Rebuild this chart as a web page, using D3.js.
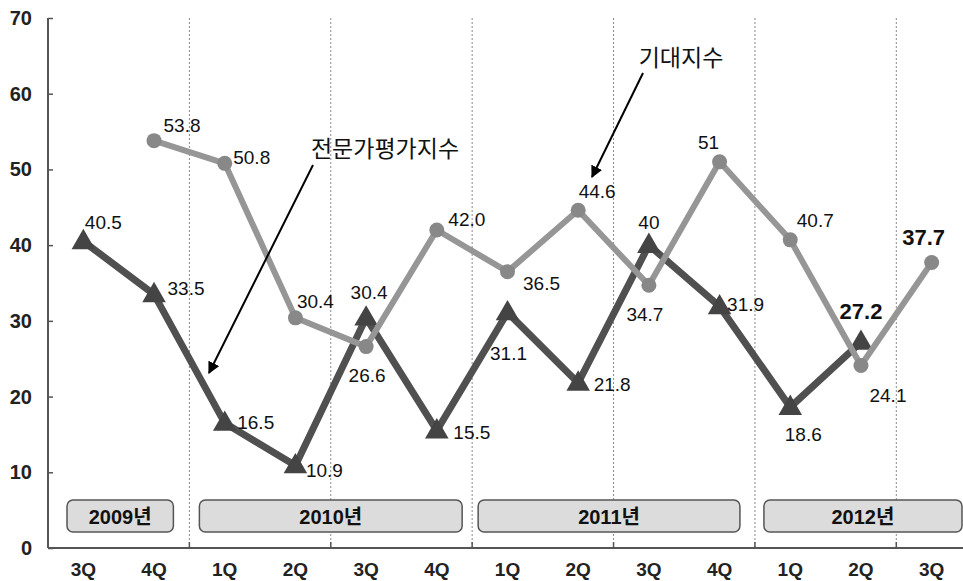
<!DOCTYPE html>
<html><head><meta charset="utf-8">
<script src="https://cdn.jsdelivr.net/npm/d3@7"></script>
<style>
body{margin:0;background:#fff;}
text{font-family:"Liberation Sans",Arial,"Noto Sans CJK KR",sans-serif;}
</style></head>
<body>
<svg id="c" width="963" height="581"></svg>
<script>
// ---- data ----
const quarters = ["3Q","4Q","1Q","2Q","3Q","4Q","1Q","2Q","3Q","4Q","1Q","2Q","3Q"];
const expertIndex = [40.5,33.5,16.5,10.9,30.4,15.5,31.1,21.8,40,31.9,18.6,27.2,null];
const expectIndex = [null,53.8,50.8,30.4,26.6,42.0,36.5,44.6,34.7,51,40.7,24.1,37.7];
const expertLabels = ["40.5","33.5","16.5","10.9","30.4","15.5","31.1","21.8","40","31.9","18.6","27.2",null];
const expectLabels = [null,"53.8","50.8","30.4","26.6","42.0","36.5","44.6","34.7","51","40.7","24.1","37.7"];
const years = ["2009년","2010년","2011년","2012년"];
const yearStart = [0,2,6,10];
const yearEnd = [1,5,9,12];
const yTicks = [0,10,20,30,40,50,60,70];
const expertName = "전문가평가지수";
const expectName = "기대지수";

// ---- layout ----
const svg = d3.select("#c");
const pL = 48, pR = 967, pT = 18, pB = 548;
const x = d3.scaleBand().domain(d3.range(quarters.length)).range([pL,pR]).padding(0);
const cx = i => x(i) + x.bandwidth()/2;
const y = d3.scaleLinear().domain([0,70]).range([pB,pT]);

// dashed dividers between half-years
const dividers = [2,4,6,8,10,12];
svg.append("g").selectAll("line").data(dividers).join("line")
  .attr("x1",d=>x(d)).attr("x2",d=>x(d)).attr("y1",pT).attr("y2",pB)
  .attr("stroke","#8a8a8a").attr("stroke-width",1).attr("stroke-dasharray","2,2");

// y axis
const yAxis = svg.append("g").attr("transform",`translate(${pL},0)`)
  .call(d3.axisRight(y).tickValues(yTicks).tickSize(5).tickFormat(""));
yAxis.select(".domain").attr("stroke","#555").attr("stroke-width",2).attr("d",`M0,${pT}V${pB}`);
yAxis.selectAll(".tick line").attr("stroke","#555").attr("stroke-width",1.5);
svg.append("g").selectAll("text").data(yTicks).join("text")
  .attr("x",32).attr("y",d=>y(d)+7).attr("text-anchor","end")
  .attr("font-size",20).attr("font-weight","bold").attr("fill","#222").text(d=>d);

// x axis
svg.append("line").attr("x1",pL).attr("x2",963).attr("y1",pB).attr("y2",pB)
  .attr("stroke","#555").attr("stroke-width",2);
svg.append("g").selectAll("line").data(dividers).join("line")
  .attr("x1",d=>x(d)).attr("x2",d=>x(d)).attr("y1",pB-6).attr("y2",pB)
  .attr("stroke","#555").attr("stroke-width",1.5);
svg.append("g").selectAll("text").data(quarters).join("text")
  .attr("x",(d,i)=>cx(i)).attr("y",576).attr("text-anchor","middle")
  .attr("font-size",19).attr("font-weight","bold").attr("fill","#222").text(d=>d);

// year boxes
const insL = [19,10,6,9], insR = [16,10,15,5];
const yb = svg.append("g");
years.forEach((yr,k)=>{
  const x0 = x(yearStart[k]) + insL[k];
  const x1 = x(yearEnd[k]) + x.bandwidth() - insR[k];
  yb.append("rect").attr("x",x0).attr("y",500).attr("width",x1-x0).attr("height",32)
    .attr("rx",6).attr("fill","#dcdcdc").attr("stroke","#555").attr("stroke-width",1.5);
  yb.append("text").attr("x",(x0+x1)/2).attr("y",524).attr("text-anchor","middle")
    .attr("font-size",20).attr("font-weight","bold").attr("fill","#111").text(yr);
});

// lines
const line = d3.line().defined(d=>d.v!=null).x(d=>cx(d.i)).y(d=>y(d.v));
const expertPts = expertIndex.map((v,i)=>({v,i}));
const expectPts = expectIndex.map((v,i)=>({v,i}));

svg.append("path").datum(expertPts).attr("d",line).attr("fill","none")
  .attr("stroke","#505050").attr("stroke-width",7).attr("stroke-linejoin","miter");
svg.append("g").selectAll("path").data(expertPts.filter(d=>d.v!=null)).join("path")
  .attr("d",d3.symbol(d3.symbolTriangle, 240))
  .attr("transform",d=>`translate(${cx(d.i)},${y(d.v)+1})`).attr("fill","#444");

svg.append("path").datum(expectPts).attr("d",line).attr("fill","none")
  .attr("stroke","#969696").attr("stroke-width",6).attr("stroke-linejoin","round");
svg.append("g").selectAll("circle").data(expectPts.filter(d=>d.v!=null)).join("circle")
  .attr("cx",d=>cx(d.i)).attr("cy",d=>y(d.v)).attr("r",7.5).attr("fill","#888");

// data labels (offsets: label centre relative to point)
const expertOff = [[20,-19],[32,-6],[31,-1],[29,5],[3,-26],[35,1],[1,40],[34,1],[0,-23],[26,-2],[13,27],[0,-31],null];
const expectOff = [null,[28,-16],[27,-6],[20,-17],[1,28],[30,-11],[34,11],[19,-19],[-4,29],[-11,-20],[25,-20],[27,29],[-8,-26]];
const big = {expert:[11], expect:[12]};
function labels(vals, labs, off, key){
  svg.append("g").selectAll("text").data(vals.map((v,i)=>({v,i,l:labs[i],o:off[i]})).filter(d=>d.v!=null)).join("text")
    .attr("x",d=>cx(d.i)+d.o[0]).attr("y",d=>y(d.v)+d.o[1]+(big[key].includes(d.i)?8:7))
    .attr("text-anchor","middle")
    .attr("font-size",d=>big[key].includes(d.i)?22:19)
    .attr("font-weight",d=>big[key].includes(d.i)?"bold":"normal")
    .attr("fill","#111").text(d=>d.l);
}
labels(expertIndex, expertLabels, expertOff, "expert");
labels(expectIndex, expectLabels, expectOff, "expect");

// annotations
const defs = svg.append("defs");
defs.append("marker").attr("id","ah").attr("viewBox","0 0 10 10").attr("refX",9).attr("refY",5)
  .attr("markerWidth",6).attr("markerHeight",6).attr("orient","auto-start-reverse")
  .append("path").attr("d","M0,0L10,5L0,10z").attr("fill","#000");
svg.append("text").attr("x",385).attr("y",157).attr("text-anchor","middle")
  .attr("font-size",23).attr("fill","#111").text(expertName);
svg.append("line").attr("x1",313).attr("y1",165).attr("x2",209).attr("y2",373)
  .attr("stroke","#000").attr("stroke-width",2).attr("marker-end","url(#ah)");
svg.append("text").attr("x",681).attr("y",66).attr("text-anchor","middle")
  .attr("font-size",23).attr("fill","#111").text(expectName);
svg.append("line").attr("x1",643).attr("y1",73).attr("x2",592).attr("y2",177)
  .attr("stroke","#000").attr("stroke-width",2).attr("marker-end","url(#ah)");
</script>
</body></html>
